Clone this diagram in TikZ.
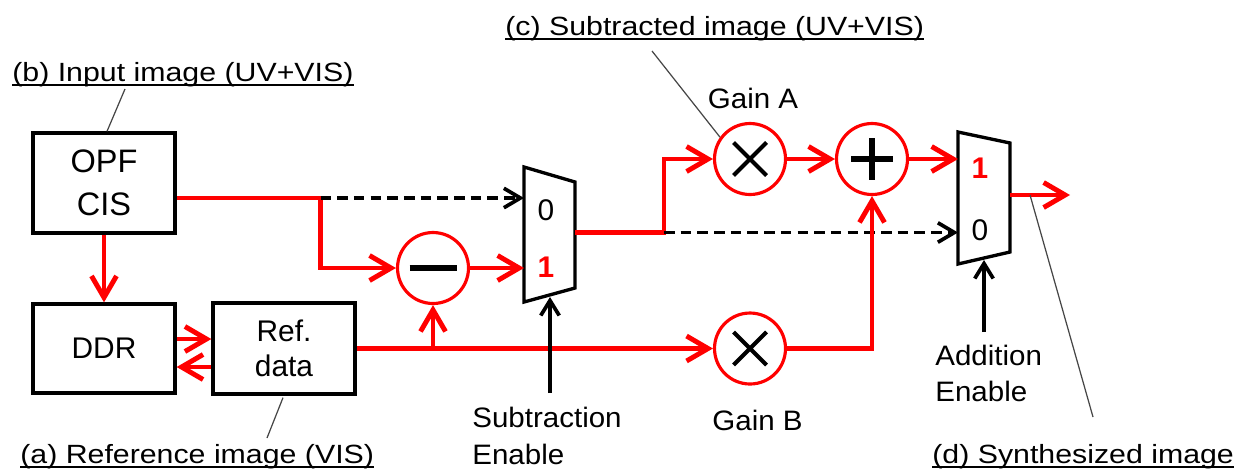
\documentclass[tikz,border=0pt]{standalone}
\usepackage{fontspec}
\setmainfont{Liberation Sans}
\newfontfamily\labfont[FakeStretch=1.15]{Liberation Sans}
\newfontfamily\annfont[FakeStretch=1.05]{Liberation Sans}
\usetikzlibrary{arrows.meta,calc}
\definecolor{sigred}{RGB}{255,0,0}
\definecolor{leadgray}{RGB}{70,70,70}

\begin{document}
\begin{tikzpicture}[
  x=0.02cm, y=-0.02cm,
  blk/.style={draw, line width=1.9pt, minimum width=2.84cm, align=center, inner sep=0pt, font=\fontsize{17}{20}\selectfont},
  op/.style={circle, draw=sigred, line width=1.8pt, minimum size=1.42cm, inner sep=0pt},
  mux/.style={draw, fill=white, line width=1.9pt, line join=miter},
  sig/.style={sigred, line width=2.8pt},
  sigarr/.style={sig, -{Straight Barb[length=4.3mm, width=5mm]}},
  dsh/.style={line width=2.1pt, dash pattern=on 6pt off 3.5pt, -{Straight Barb[length=3.3mm, width=3.9mm]}},
  sel/.style={line width=2.1pt, -{Straight Barb[length=3mm, width=3.7mm]}},
  sym/.style={line width=2.3pt},
  num/.style={inner sep=0pt, font=\fontsize{17}{20}\selectfont},
  ann/.style={inner sep=0pt, align=left, font={\annfont\fontsize{16}{20.5}\selectfont}},
  lbl/.style={inner sep=0pt, font={\labfont\fontsize{15}{18}\selectfont}},
  uline/.style={line width=0.9pt},
  lead/.style={leadgray, line width=0.7pt},
]
\useasboundingbox (0,0) rectangle (1239,468);

% blocks
\node[blk, minimum height=2cm, font=\fontsize{18.5}{24.8}\selectfont] (opf) at (104,183) {OPF\\CIS};
\node[blk, minimum height=1.78cm] (ddr) at (104,348.5) {DDR};
\node[blk, minimum height=1.82cm] (ref) at (284,348.5) {Ref.\\data};

% operators
\node[op] (minus) at (433,268) {};
\node[op] (gaina) at (750,159) {};
\node[op] (plus) at (872,159) {};
\node[op] (gainb) at (750,348.5) {};
\foreach \g in {gaina,gainb}
  \draw[sym] ($(\g)+(-16.5,-16.5)$) -- ($(\g)+(16.5,16.5)$)
             ($(\g)+(-16.5,16.5)$) -- ($(\g)+(16.5,-16.5)$);
\draw[line width=3.6pt] ($(plus)+(-21,0)$) -- ($(plus)+(21,0)$)
                        ($(plus)+(0,-21)$) -- ($(plus)+(0,21)$);
\draw[line width=3.4pt] ($(minus)+(-23.5,0)$) -- ($(minus)+(23.5,0)$);

% multiplexers
\draw[mux] (524,167) -- (575,182) -- (575,288) -- (524,302) -- cycle;
\draw[mux] (958,132) -- (1010,143) -- (1010,252) -- (958,264) -- cycle;
\node[num] (m1zero) at (546,210) {0};
\node[num, text=sigred, font={\fontsize{17}{20}\selectfont\bfseries}] (m1one) at (546,267) {1};
\node[num, text=sigred, font={\fontsize{17}{20}\selectfont\bfseries}] (m2one) at (980,168) {1};
\node[num] (m2zero) at (980,230) {0};

% ports and branch points
\coordinate (m1in0) at (524,198);
\coordinate (m1in1) at (524,268);
\coordinate (m1out) at (575,232.5);
\coordinate (m1sel) at (550,297);
\coordinate (m2in1) at (958,159);
\coordinate (m2in0) at (958,232.5);
\coordinate (m2out) at (1010,195);
\coordinate (m2sel) at (984,260);
\coordinate (sp1) at (320.5,198);
\coordinate (sp2) at (664,232.5);
\coordinate (subin) at (550,393);
\coordinate (addin) at (984,332);
\coordinate (outp) at (1070,195);

% signals
\draw[sigarr] (opf.east |- sp1) -- (sp1) |- (minus);
\draw[dsh] (sp1) -- (m1in0);
\draw[sigarr] (minus) -- (m1in1);
\draw[sigarr] (m1out) -- (sp2) |- (gaina);
\draw[dsh] (sp2) -- (m2in0);
\draw[sigarr] (gaina) -- (plus);
\draw[sigarr] (plus) -- (m2in1);
\draw[sigarr] (m2out) -- (outp);
\draw[sigarr] (opf) -- (ddr);
\draw[sigarr] ($(ddr.east)+(0,-9.5)$) -- ($(ref.west)+(0,-9.5)$);
\draw[sigarr] ($(ref.west)+(0,18.5)$) -- ($(ddr.east)+(0,18.5)$);
\draw[sigarr] (ref) -- (gainb);
\draw[sigarr] (minus |- ref) -- (minus);
\draw[sigarr] (gainb) -| (plus);
\draw[sel] (subin) -- (m1sel);
\draw[sel] (addin) -- (m2sel);

% annotations
\node[ann, anchor=base] (gatxt) at (753,108) {Gain A};
\node[ann, anchor=base] (gbtxt) at (757.5,430) {Gain B};
\node[ann, anchor=base west] (subtxt) at (472,464) {Subtraction\\Enable};
\node[ann, anchor=base west] (addtxt) at (935,401.5) {Addition\\Enable};

% labels
\node[lbl, anchor=base west] (lbb) at (12,81) {(b) Input image (UV+VIS)};
\node[lbl, anchor=base west] (lba) at (20,463) {(a) Reference image (VIS)};
\node[lbl, anchor=base west] (lbc) at (505,35) {(c) Subtracted image (UV+VIS)};
\node[lbl, anchor=base west] (lbd) at (932,463) {(d) Synthesized image};
\foreach \l in {lbb,lba,lbc,lbd}
  \draw[uline] ($(\l.base west)+(0,4)$) -- ($(\l.base east)+(0,4)$);
\draw[lead] ($(lbb.base west)+(113,8)$) -- ($(opf.north)+(3,0)$);
\draw[lead] ($(ref.south)+(-1,2)$) -- ($(lba.base west)+(247,-25)$);
\draw[lead] ($(lbc.base west)+(147,16)$) -- (gaina.144);
\draw[lead] ($(m2out)+(20,0)$) -- ($(lbd.base west)+(161,-46)$);
\end{tikzpicture}
\end{document}
